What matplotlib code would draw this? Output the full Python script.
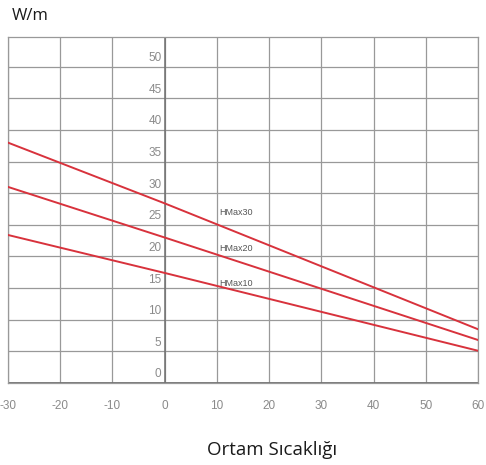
''' Heating cable output (W/m) vs ambient temperature. '''

import matplotlib.pyplot as plt

# data
temps = [-30, 0, 60]
hmax30 = [38.0, 28.4, 8.5]
hmax20 = [31.0, 23.0, 6.8]
hmax10 = [23.4, 17.4, 5.1]
series_names = ['HMax30', 'HMax20', 'HMax10']
label_pos = [(10.5, 27.0), (10.5, 21.2), (10.5, 15.8)]

x_ticks = [-30, -20, -10, 0, 10, 20, 30, 40, 50, 60]
y_ticks = [0, 5, 10, 15, 20, 25, 30, 35, 40, 45, 50]

RED = '#d8323c'
GRID = '#999999'
TICK_COL = '#8a8a8a'


def main():
    '''Main'''
    fig = plt.figure(figsize=(4.86, 4.65), dpi=100)
    ax = fig.add_axes([8 / 486, 82 / 465, 470 / 486, 346 / 465])
    ax.set_xlim(-30, 60)
    ax.set_ylim(0, 54.7)

    for x in x_ticks:
        ax.axvline(x, color=GRID, linewidth=0.9, zorder=1)
    for y in y_ticks:
        ax.axhline(y, color=GRID, linewidth=0.9, zorder=1)
    ax.axvline(0, color='#707070', linewidth=1.1, zorder=2)
    ax.axhline(0, color='#707070', linewidth=1.3, zorder=2)

    for vals in (hmax30, hmax20, hmax10):
        ax.plot(temps, vals, color=RED, linewidth=1.4, zorder=3)

    for name, (lx, ly) in zip(series_names, label_pos):
        ax.text(lx, ly, name, fontsize=6.5, color='#555555', ha='left', va='center',
                family='Liberation Sans', zorder=4)

    # y labels sit inside the plot, just left of the x=0 line
    for y in y_ticks:
        ax.text(-0.6, y + 0.4, str(y), fontsize=8.5, color=TICK_COL, ha='right', va='bottom',
                family='Liberation Sans', zorder=4)

    ax.set_xticks(x_ticks)
    ax.set_xticklabels([str(x) for x in x_ticks], fontsize=8.5, color=TICK_COL,
                       family='Liberation Sans')
    ax.tick_params(axis='x', length=0, pad=12)
    ax.set_yticks([])
    for side in ('top', 'right', 'left', 'bottom'):
        ax.spines[side].set_color(GRID)
        ax.spines[side].set_linewidth(0.9)

    fig.text(12 / 486, 1 - 16 / 465, 'W/m', fontsize=12, color='#1a1a1a',
             family='Open Sans', fontweight='medium', ha='left', va='center')
    fig.text(272 / 486, 1 - 450 / 465, 'Ortam Sıcaklığı', fontsize=13.5, color='#1a1a1a',
             family='Open Sans', fontweight='medium', ha='center', va='center')

    fig.savefig('out.png', dpi=100)


if __name__ == "__main__":
    main()
